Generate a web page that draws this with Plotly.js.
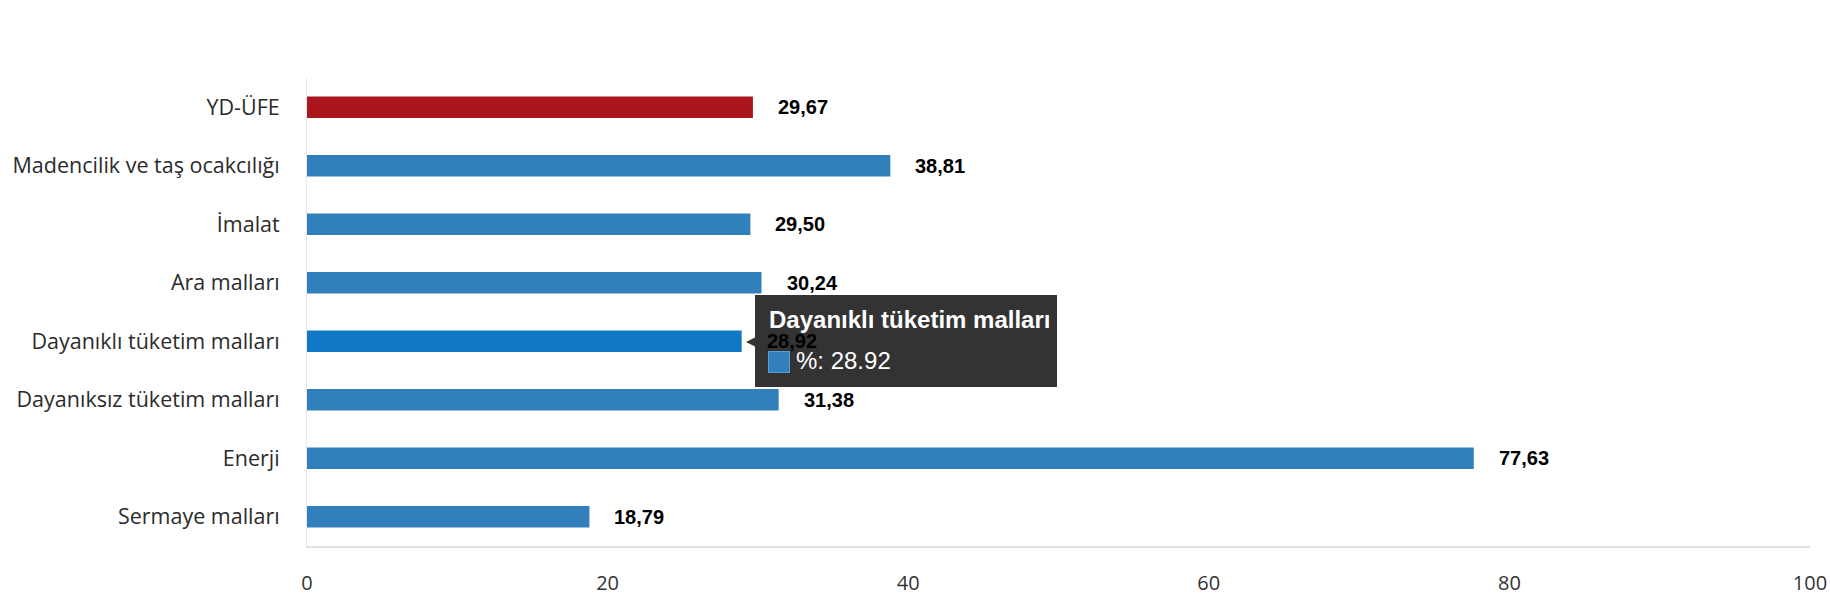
<!DOCTYPE html>
<html>
<head>
<meta charset="utf-8">
<script src="https://cdn.plot.ly/plotly-3.0.1.min.js"></script>
<style>html,body{margin:0;padding:0;background:#fff;}#chart{width:1830px;height:600px;}</style>
</head>
<body>
<div id="chart"></div>
<script>
const categories = ["YD-ÜFE", "Madencilik ve taş ocakcılığı", "İmalat", "Ara malları",
  "Dayanıklı tüketim malları", "Dayanıksız tüketim malları", "Enerji", "Sermaye malları"];
const values = [29.67, 38.81, 29.50, 30.24, 28.92, 31.38, 77.63, 18.79];
const seriesName = "%";
const tickValues = [0, 20, 40, 60, 80, 100];
const hoveredIndex = 4;

const blue = "#3280bb", red = "#ab161d", hoverBlue = "#1177c7";
const colors = categories.map((c, i) => i === 0 ? red : (i === hoveredIndex ? hoverBlue : blue));
const labels = values.map(v => v.toFixed(2).replace(".", ","));

const trace = {
  type: "bar", orientation: "h",
  x: values, y: categories, name: seriesName,
  marker: { color: colors },
  hoverinfo: "none"
};

const labelFont = { family: "Liberation Sans, Arial, sans-serif", size: 20, color: "#000000" };
const tipFont = { family: "Liberation Sans, Arial, sans-serif", size: 24, color: "#ffffff" };
const hx = values[hoveredIndex], hy = categories[hoveredIndex];

// tooltip (pointer + box + title + swatch + value line) for the hovered category, drawn before the value labels
const tooltip = [
  {
    x: hx, y: hy, xref: "x", yref: "y",
    text: "◀", showarrow: false, xanchor: "left", yanchor: "middle", xshift: 2,
    font: { family: "DejaVu Sans, sans-serif", size: 15, color: "#333333" }
  },
  {
    x: hx, y: hy, xref: "x", yref: "y",
    text: " ", showarrow: false, xanchor: "left", yanchor: "middle", xshift: 13,
    width: 280, height: 70, borderpad: 11,
    bgcolor: "#333333", bordercolor: "#333333", borderwidth: 0,
    font: tipFont
  },
  {
    x: hx, y: hy, xref: "x", yref: "y",
    text: "<b>" + hy + "</b>", showarrow: false,
    xanchor: "left", yanchor: "middle", xshift: 25, yshift: 22,
    font: tipFont
  },
  {
    x: hx, y: hy, xref: "x", yref: "y",
    text: " ", showarrow: false,
    xanchor: "left", yanchor: "middle", xshift: 26, yshift: -21,
    width: 20, height: 20, borderpad: 0,
    bgcolor: blue, bordercolor: "#5a9bd0", borderwidth: 1,
    font: { size: 10, color: blue }
  },
  {
    x: hx, y: hy, xref: "x", yref: "y",
    text: seriesName + ": " + hx,
    showarrow: false,
    xanchor: "left", yanchor: "middle", xshift: 52, yshift: -19,
    font: tipFont
  }
];

const valueLabels = values.map((v, i) => ({
  x: v, y: categories[i], xref: "x", yref: "y",
  text: "<b>" + labels[i] + "</b>", showarrow: false,
  xanchor: "left", yanchor: "middle", xshift: 23,
  font: labelFont
}));

const layout = {
  width: 1830, height: 600,
  margin: { l: 307, r: 20, t: 78, b: 54 },
  paper_bgcolor: "#ffffff", plot_bgcolor: "#ffffff",
  showlegend: false,
  bargap: 0.63,
  hovermode: false,
  xaxis: {
    range: [0, 100], tickvals: tickValues, ticktext: tickValues.map(String),
    showgrid: false, zeroline: false,
    showline: true, linecolor: "#e0e0e0", linewidth: 2,
    ticks: "outside", ticklen: 18, tickcolor: "rgba(0,0,0,0)",
    tickfont: { family: "Open Sans, sans-serif", size: 20, color: "#333333" },
    fixedrange: true
  },
  yaxis: {
    autorange: "reversed", type: "category",
    showgrid: false, zeroline: false,
    showline: true, linecolor: "#e6e6ee", linewidth: 1,
    ticks: "outside", ticklen: 22, tickcolor: "rgba(0,0,0,0)",
    tickfont: { family: "Open Sans, sans-serif", size: 21.5, color: "#2b2b2b" },
    fixedrange: true
  },
  annotations: tooltip.concat(valueLabels)
};

Plotly.newPlot("chart", [trace], layout, { displayModeBar: false });
</script>
</body>
</html>
